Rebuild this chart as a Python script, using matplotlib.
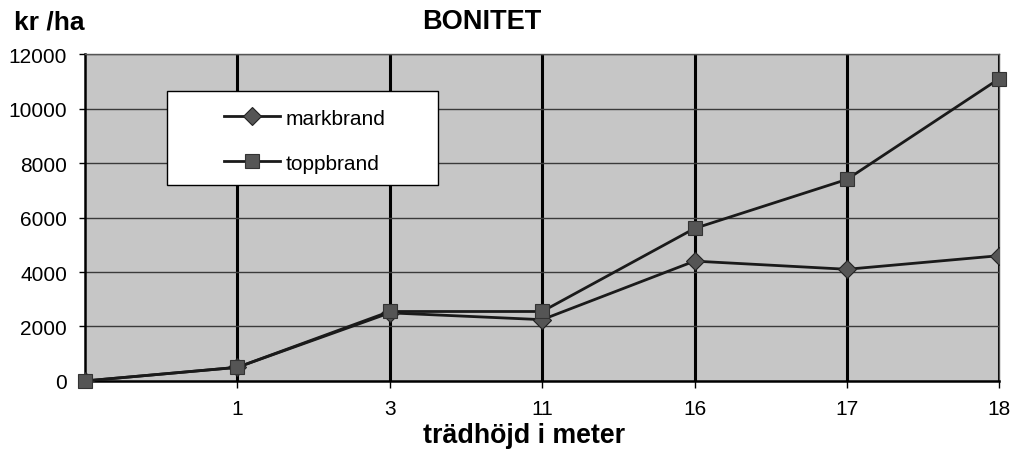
import matplotlib
matplotlib.use("Agg")
import matplotlib.pyplot as plt
from matplotlib.patches import Rectangle

plt.rcParams['font.family'] = ['Liberation Sans', 'DejaVu Sans']

# data
categories = ["", "1", "3", "11", "16", "17", "18"]
markbrand = [0, 500, 2500, 2250, 4400, 4100, 4600]
toppbrand = [0, 500, 2550, 2550, 5600, 7400, 11100]
y_ticks = [0, 2000, 4000, 6000, 8000, 10000, 12000]

fig = plt.figure(figsize=(10.17, 4.52), dpi=100)
ax = fig.add_axes([0.0836, 0.155, 0.899, 0.723])
ax.set_facecolor('#c6c6c6')

x = list(range(len(categories)))

# grid: thick verticals at each category, thin horizontals
for xi in x[1:]:
    ax.axvline(xi, color='black', lw=2.2, zorder=1)
for yv in y_ticks[1:]:
    ax.axhline(yv, color='#3a3a3a', lw=1.0, zorder=1)

ax.plot(x, markbrand, color='#1a1a1a', lw=2.0, marker='D', ms=9.5,
        mfc='#555555', mec='#222222', mew=0.8, label='markbrand', zorder=3)
ax.plot(x, toppbrand, color='#1a1a1a', lw=2.0, marker='s', ms=10,
        mfc='#555555', mec='#333333', mew=0.8, label='toppbrand', zorder=4,
        clip_on=False)

ax.set_xlim(0, 6)
ax.set_ylim(0, 12000)
ax.set_xticks(x)
ax.set_xticklabels(categories, fontsize=15)
ax.set_yticks(y_ticks)
ax.set_yticklabels([str(v) for v in y_ticks], fontsize=15)
ax.tick_params(axis='x', length=5, width=1, pad=8)
ax.tick_params(axis='y', length=4, width=1, pad=9)

for side in ['left', 'bottom']:
    ax.spines[side].set_color('black')
    ax.spines[side].set_linewidth(1.8)
for side in ['top', 'right']:
    ax.spines[side].set_color('#555555')
    ax.spines[side].set_linewidth(1.0)

# legend box drawn by hand, wider than the content
box = Rectangle((0.0896, 0.599), 0.2964, 0.288, transform=ax.transAxes,
                facecolor='white', edgecolor='black', lw=1.0, zorder=5)
ax.add_patch(box)
leg = ax.legend(loc='center', bbox_to_anchor=(0.240, 0.735), fontsize=15,
                frameon=False, handlelength=2.7, labelspacing=1.25,
                borderpad=0, borderaxespad=0, handletextpad=0.25)
leg.set_zorder(6)

fig.text(0.474, 0.951, "BONITET", fontsize=19.5, fontweight='bold',
         ha='center', va='center')
fig.text(0.014, 0.951, "kr /ha", fontsize=19, fontweight='bold',
         ha='left', va='center')
fig.text(0.515, 0.036, "trädhöjd i meter", fontsize=19.3, fontweight='bold',
         ha='center', va='center')

fig.savefig("out.png", dpi=100)
